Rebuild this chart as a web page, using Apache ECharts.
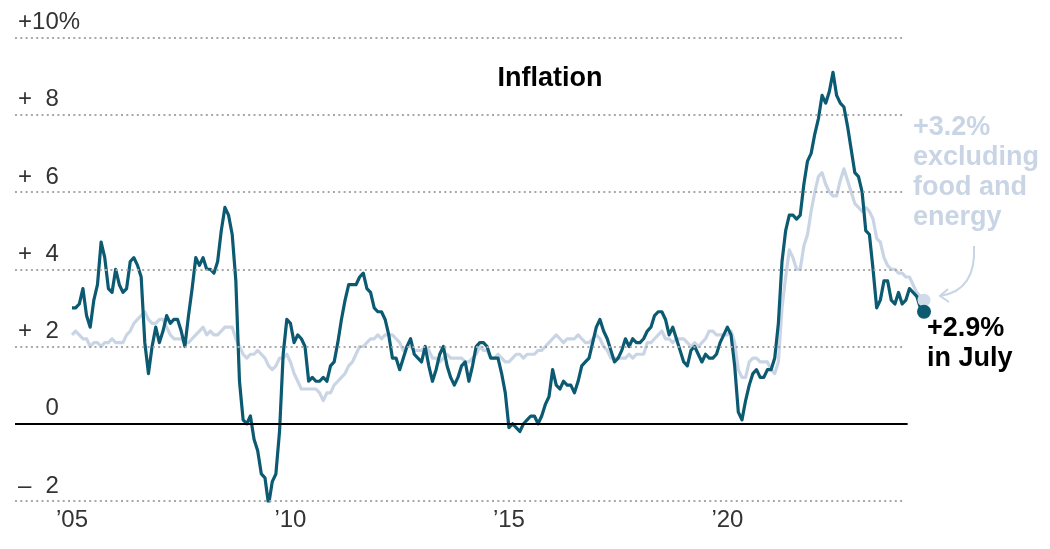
<!DOCTYPE html>
<html>
<head>
<meta charset="utf-8">
<script src="https://cdn.jsdelivr.net/npm/echarts@6/dist/echarts.min.js"></script>
<style>
  html, body { margin: 0; padding: 0; background: #fff; }
  #chart { width: 1050px; height: 549px; }
</style>
</head>
<body>
<div id="chart"></div>
<script>
// Monthly year-over-year change, Jan 2005 .. Jul 2024 (month index 0 = Jan 2005)
const headline = [
  3.0, 3.0, 3.1, 3.5, 2.8, 2.5, 3.2, 3.6, 4.7, 4.3, 3.5, 3.4,   // 2005
  4.0, 3.6, 3.4, 3.5, 4.2, 4.3, 4.1, 3.8, 2.1, 1.3, 2.0, 2.5,   // 2006
  2.1, 2.4, 2.8, 2.6, 2.7, 2.7, 2.4, 2.0, 2.8, 3.5, 4.3, 4.1,   // 2007
  4.3, 4.0, 4.0, 3.9, 4.2, 5.0, 5.6, 5.4, 4.9, 3.7, 1.1, 0.1,   // 2008
  0.0, 0.2, -0.4, -0.7, -1.3, -1.4, -2.1, -1.5, -1.3, -0.2, 1.8, 2.7, // 2009
  2.6, 2.1, 2.3, 2.2, 2.0, 1.1, 1.2, 1.1, 1.1, 1.2, 1.1, 1.5,   // 2010
  1.6, 2.1, 2.7, 3.2, 3.6, 3.6, 3.6, 3.8, 3.9, 3.5, 3.4, 3.0,   // 2011
  2.9, 2.9, 2.7, 2.3, 1.7, 1.7, 1.4, 1.7, 2.0, 2.2, 1.8, 1.7,   // 2012
  1.6, 2.0, 1.5, 1.1, 1.4, 1.8, 2.0, 1.5, 1.2, 1.0, 1.2, 1.5,   // 2013
  1.6, 1.1, 1.5, 2.0, 2.1, 2.1, 2.0, 1.7, 1.7, 1.7, 1.3, 0.8,   // 2014
  -0.1, 0.0, -0.1, -0.2, 0.0, 0.1, 0.2, 0.2, 0.0, 0.2, 0.5, 0.7, // 2015
  1.4, 1.0, 0.9, 1.1, 1.0, 1.0, 0.8, 1.1, 1.5, 1.6, 1.7, 2.1,   // 2016
  2.5, 2.7, 2.4, 2.2, 1.9, 1.6, 1.7, 1.9, 2.2, 2.0, 2.2, 2.1,   // 2017
  2.1, 2.2, 2.4, 2.5, 2.8, 2.9, 2.9, 2.7, 2.3, 2.5, 2.2, 1.9,   // 2018
  1.6, 1.5, 1.9, 2.0, 1.8, 1.6, 1.8, 1.7, 1.7, 1.8, 2.1, 2.3,   // 2019
  2.5, 2.3, 1.5, 0.3, 0.1, 0.6, 1.0, 1.3, 1.4, 1.2, 1.2, 1.4,   // 2020
  1.4, 1.7, 2.6, 4.2, 5.0, 5.4, 5.4, 5.3, 5.4, 6.2, 6.8, 7.0,   // 2021
  7.5, 7.9, 8.5, 8.3, 8.6, 9.1, 8.5, 8.3, 8.2, 7.7, 7.1, 6.5,   // 2022
  6.4, 6.0, 5.0, 4.9, 4.0, 3.0, 3.2, 3.7, 3.7, 3.2, 3.1, 3.4,   // 2023
  3.1, 3.2, 3.5, 3.4, 3.3, 3.0, 2.9                             // 2024
];
const core = [
  2.3, 2.4, 2.3, 2.2, 2.2, 2.0, 2.1, 2.1, 2.0, 2.1, 2.1, 2.2,   // 2005
  2.1, 2.1, 2.1, 2.3, 2.4, 2.6, 2.7, 2.8, 2.9, 2.7, 2.6, 2.6,   // 2006
  2.7, 2.7, 2.5, 2.3, 2.2, 2.2, 2.2, 2.1, 2.1, 2.2, 2.3, 2.4,   // 2007
  2.5, 2.3, 2.4, 2.3, 2.3, 2.4, 2.5, 2.5, 2.5, 2.2, 2.0, 1.8,   // 2008
  1.7, 1.8, 1.8, 1.9, 1.8, 1.7, 1.5, 1.4, 1.5, 1.7, 1.7, 1.8,   // 2009
  1.6, 1.3, 1.1, 0.9, 0.9, 0.9, 0.9, 0.9, 0.8, 0.6, 0.8, 0.8,   // 2010
  1.0, 1.1, 1.2, 1.3, 1.5, 1.6, 1.8, 2.0, 2.0, 2.1, 2.2, 2.2,   // 2011
  2.3, 2.2, 2.3, 2.3, 2.3, 2.2, 2.1, 1.9, 2.0, 2.0, 1.9, 1.9,   // 2012
  1.9, 2.0, 1.9, 1.7, 1.7, 1.6, 1.7, 1.8, 1.7, 1.7, 1.7, 1.7,   // 2013
  1.6, 1.6, 1.7, 1.8, 2.0, 1.9, 1.9, 1.7, 1.7, 1.8, 1.7, 1.6,   // 2014
  1.6, 1.7, 1.8, 1.8, 1.7, 1.8, 1.8, 1.8, 1.9, 1.9, 2.0, 2.1,   // 2015
  2.2, 2.3, 2.2, 2.1, 2.2, 2.2, 2.2, 2.3, 2.2, 2.1, 2.1, 2.2,   // 2016
  2.3, 2.2, 2.0, 1.9, 1.7, 1.7, 1.7, 1.7, 1.7, 1.8, 1.7, 1.8,   // 2017
  1.8, 1.8, 2.1, 2.1, 2.2, 2.3, 2.4, 2.2, 2.2, 2.1, 2.2, 2.2,   // 2018
  2.2, 2.1, 2.0, 2.1, 2.0, 2.1, 2.2, 2.4, 2.4, 2.3, 2.3, 2.3,   // 2019
  2.3, 2.4, 2.1, 1.4, 1.2, 1.2, 1.6, 1.7, 1.7, 1.6, 1.6, 1.6,   // 2020
  1.4, 1.3, 1.6, 3.0, 3.8, 4.5, 4.3, 4.0, 4.0, 4.6, 4.9, 5.5,   // 2021
  6.0, 6.4, 6.5, 6.2, 6.0, 5.9, 5.9, 6.3, 6.6, 6.3, 6.0, 5.7,   // 2022
  5.6, 5.5, 5.6, 5.5, 5.3, 4.8, 4.7, 4.3, 4.1, 4.0, 4.0, 3.9,   // 2023
  3.9, 3.8, 3.8, 3.6, 3.4, 3.3, 3.2                             // 2024
];
const xTickIndex = [0, 60, 120, 180];
const xTickLabels = ['\u201905', '\u201910', '\u201915', '\u201920'];
const yTicks = [-2, 2, 4, 6, 8, 10];
const yTickSign = { '-2': '\u2013', '0': ' ', '2': '+', '4': '+', '6': '+', '8': '+', '10': '+' };
const yTickTens = { '-2': ' ', '0': ' ', '2': ' ', '4': ' ', '6': ' ', '8': ' ', '10': '1' };
const yTickRest = { '-2': '2', '0': '0', '2': '2', '4': '4', '6': '6', '8': '8', '10': '0%' };

const toPairs = arr => arr.map((v, i) => [i, v]);
const headPairs = toPairs(headline);
const corePairs = toPairs(core);
const lastH = headPairs[headPairs.length - 1];
const lastC = corePairs[corePairs.length - 1];

const X_MIN = -15.65;   // left edge of the grid
const X_GRID_END = 228.9;   // where dotted gridlines stop
const X_ZERO_END = 229.5;   // where the zero line stops
const X_MAX = 236;

const HEAD = '#0b5a72';
const CORE = '#c9d5e5';
const FONT = '"Liberation Sans", Arial, sans-serif';

const gridLines = yTicks.map(t => [
  { coord: [X_MIN, t] }, { coord: [X_GRID_END, t] }
]);

const chart = echarts.init(document.getElementById('chart'), null, { renderer: 'canvas' });
chart.setOption({
  animation: false,
  backgroundColor: '#fff',
  grid: { left: 15, right: 118.7, top: 37.5, bottom: 48, containLabel: false },
  xAxis: {
    type: 'value',
    min: X_MIN,
    max: X_MAX,
    axisLine: { show: false },
    axisTick: { show: false },
    splitLine: { show: false },
    axisLabel: {
      customValues: xTickIndex,
      formatter: v => xTickLabels[xTickIndex.indexOf(v)] || '',
      color: '#333',
      fontFamily: FONT,
      fontSize: 24,
      margin: 7
    }
  },
  yAxis: {
    type: 'value',
    min: -2,
    max: 10,
    interval: 2,
    axisLine: { show: false },
    axisTick: { show: false },
    splitLine: { show: false },
    axisLabel: {
      inside: true,
      margin: 3,
      verticalAlign: 'bottom',
      padding: [0, 0, 3, 0],
      formatter: v => '{s|' + yTickSign[String(v)] + '}{t|' + yTickTens[String(v)] + '}{n|' + yTickRest[String(v)] + '}',
      rich: {
        s: { width: 14, align: 'left', color: '#333', fontFamily: FONT, fontSize: 24 },
        t: { width: 13.4, align: 'left', color: '#333', fontFamily: FONT, fontSize: 24 },
        n: { color: '#333', fontFamily: FONT, fontSize: 24 }
      }
    }
  },
  graphic: [
    {
      type: 'text', x: 550, y: 65, z: 10,
      style: { text: 'Inflation', fill: '#000', font: 'bold 27px ' + FONT, textAlign: 'center', textVerticalAlign: 'top' }
    },
    {
      type: 'text', left: 913, top: 113, z: 10,
      style: { text: '+3.2%\nexcluding\nfood and\nenergy', fill: CORE, font: 'bold 27px ' + FONT, lineHeight: 30 }
    },
    {
      type: 'text', left: 927, top: 314, z: 10,
      style: { text: '+2.9%\nin July', fill: '#000', font: 'bold 27px ' + FONT, lineHeight: 30 }
    },
    {
      type: 'bezierCurve', z: 10,
      shape: { x1: 974, y1: 246, cpx1: 976, cpy1: 280, cpx2: 960, cpy2: 293, x2: 940, y2: 296 },
      style: { stroke: CORE, lineWidth: 2, fill: null }
    },
    {
      type: 'polyline', z: 10,
      shape: { points: [[948, 289], [940, 296], [949, 302]] },
      style: { stroke: CORE, lineWidth: 2, fill: null }
    }
  ],
  series: [
    {
      type: 'line', name: 'grid', data: [], z: 1, silent: true,
      markLine: {
        silent: true, symbol: 'none', animation: false,
        label: { show: false },
        lineStyle: { color: '#a8a8a8', width: 2, type: [2, 3.3] },
        data: gridLines.concat([[
          { coord: [X_MIN, 0], lineStyle: { color: '#000', width: 2, type: 'solid' } },
          { coord: [X_ZERO_END, 0] }
        ]])
      }
    },
    {
      type: 'line', name: 'core', data: corePairs,
      showSymbol: false, symbol: 'none', z: 2,
      lineStyle: { color: CORE, width: 3.2, join: 'round' }
    },
    {
      type: 'line', name: 'headline', data: headPairs,
      showSymbol: false, symbol: 'none', z: 3,
      lineStyle: { color: HEAD, width: 3.2, join: 'round' }
    },
    {
      type: 'scatter', data: [lastC], symbolSize: 13, z: 4, silent: true,
      itemStyle: { color: '#d0dbe8', opacity: 1 }
    },
    {
      type: 'scatter', data: [lastH], symbolSize: 14, z: 5, silent: true,
      itemStyle: { color: HEAD, opacity: 1 }
    }
  ]
});
</script>
</body>
</html>
